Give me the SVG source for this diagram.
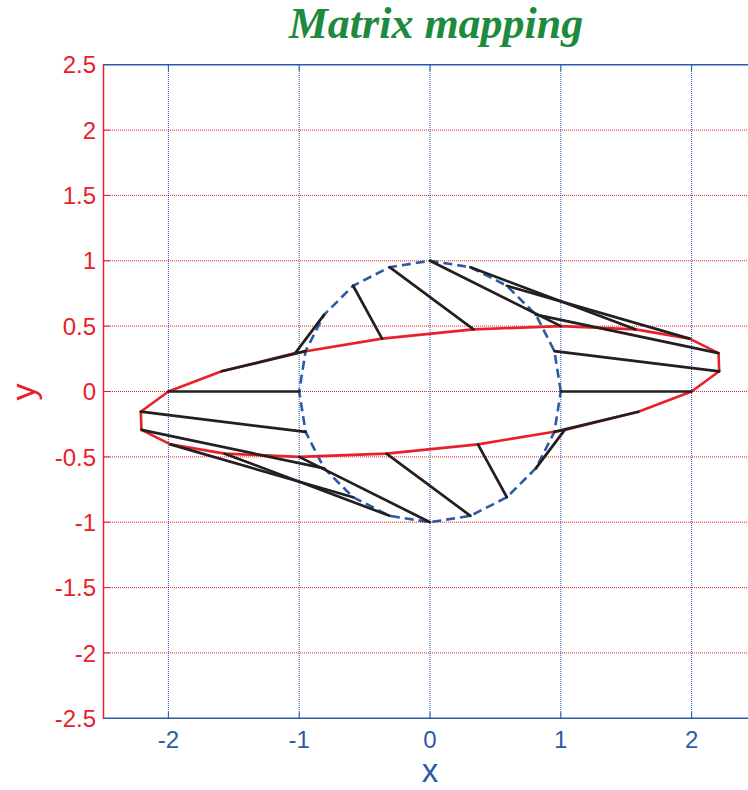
<svg xmlns="http://www.w3.org/2000/svg" width="748" height="790" viewBox="0 0 748 790">
<style>
.hg{stroke:#e8202a;stroke-width:1;stroke-dasharray:1,1;fill:none}
.vg{stroke:#2b5ba8;stroke-width:1;stroke-dasharray:1,1;fill:none}
.ytl{font-family:"Liberation Sans",Arial,sans-serif;font-size:24px;fill:#e8202a;text-anchor:end}
.xtl{font-family:"Liberation Sans",Arial,sans-serif;font-size:24px;fill:#2b5ba8;text-anchor:middle}
.conn line{stroke:#231f20;stroke-width:2.7;stroke-linecap:round}
</style>
<rect width="748" height="790" fill="#ffffff"/>
<g id="grid">
<line class="hg" x1="104" y1="130.1" x2="748" y2="130.1"/>
<line class="hg" x1="104" y1="195.4" x2="748" y2="195.4"/>
<line class="hg" x1="104" y1="260.8" x2="748" y2="260.8"/>
<line class="hg" x1="104" y1="326.1" x2="748" y2="326.1"/>
<line class="hg" x1="104" y1="391.5" x2="748" y2="391.5"/>
<line class="hg" x1="104" y1="456.9" x2="748" y2="456.9"/>
<line class="hg" x1="104" y1="522.2" x2="748" y2="522.2"/>
<line class="hg" x1="104" y1="587.6" x2="748" y2="587.6"/>
<line class="hg" x1="104" y1="652.9" x2="748" y2="652.9"/>
<line class="vg" x1="168.4" y1="65" x2="168.4" y2="718"/>
<line class="vg" x1="299.2" y1="65" x2="299.2" y2="718"/>
<line class="vg" x1="430" y1="65" x2="430" y2="718"/>
<line class="vg" x1="560.8" y1="65" x2="560.8" y2="718"/>
<line class="vg" x1="691.6" y1="65" x2="691.6" y2="718"/>
</g>
<g id="axes">
<line x1="103.5" y1="64.7" x2="748" y2="64.7" stroke="#2b5ba8" stroke-width="1.5"/>
<line x1="103.5" y1="718.3" x2="748" y2="718.3" stroke="#2b5ba8" stroke-width="1.5"/>
<line x1="103.5" y1="64" x2="103.5" y2="719" stroke="#e8202a" stroke-width="1.5"/>
<g stroke="#2b5ba8" stroke-width="1">
<line x1="168.4" y1="718" x2="168.4" y2="712"/><line x1="299.2" y1="718" x2="299.2" y2="712"/><line x1="430" y1="718" x2="430" y2="712"/><line x1="560.8" y1="718" x2="560.8" y2="712"/><line x1="691.6" y1="718" x2="691.6" y2="712"/>
<line x1="168.4" y1="65" x2="168.4" y2="71"/><line x1="299.2" y1="65" x2="299.2" y2="71"/><line x1="430" y1="65" x2="430" y2="71"/><line x1="560.8" y1="65" x2="560.8" y2="71"/><line x1="691.6" y1="65" x2="691.6" y2="71"/>
</g>
<g stroke="#e8202a" stroke-width="1">
<line x1="104" y1="130.1" x2="110" y2="130.1"/><line x1="104" y1="195.4" x2="110" y2="195.4"/><line x1="104" y1="260.8" x2="110" y2="260.8"/><line x1="104" y1="326.1" x2="110" y2="326.1"/><line x1="104" y1="391.5" x2="110" y2="391.5"/><line x1="104" y1="456.9" x2="110" y2="456.9"/><line x1="104" y1="522.2" x2="110" y2="522.2"/><line x1="104" y1="587.6" x2="110" y2="587.6"/><line x1="104" y1="652.9" x2="110" y2="652.9"/>
</g>
<text class="ytl" x="96" y="73.3">2.5</text>
<text class="ytl" x="96" y="138.7">2</text>
<text class="ytl" x="96" y="204">1.5</text>
<text class="ytl" x="96" y="269.4">1</text>
<text class="ytl" x="96" y="334.7">0.5</text>
<text class="ytl" x="96" y="400.1">0</text>
<text class="ytl" x="96" y="465.5">-0.5</text>
<text class="ytl" x="96" y="530.8">-1</text>
<text class="ytl" x="96" y="596.2">-1.5</text>
<text class="ytl" x="96" y="661.5">-2</text>
<text class="ytl" x="96" y="726.9">-2.5</text>
<text class="xtl" x="168.4" y="748">-2</text>
<text class="xtl" x="299.2" y="748">-1</text>
<text class="xtl" x="430" y="748">0</text>
<text class="xtl" x="560.8" y="748">1</text>
<text class="xtl" x="691.6" y="748">2</text>
<text x="430" y="782" font-family="Liberation Sans,Arial,sans-serif" font-size="33" fill="#2b5ba8" text-anchor="middle">x</text>
<text transform="translate(35,392) rotate(-90)" font-family="Liberation Sans,Arial,sans-serif" font-size="34" fill="#e8202a" text-anchor="middle">y</text>
<text x="436" y="38" font-family="Liberation Serif,Times New Roman,serif" font-size="44" font-weight="bold" font-style="italic" fill="#1e8a3e" text-anchor="middle">Matrix mapping</text>
</g>
<g id="unit-circle">
<polygon points="560.8,391.5 554.40,351.11 535.82,314.68 506.88,285.76 470.42,267.20 430,260.8 389.58,267.20 353.12,285.76 324.18,314.68 305.60,351.11 299.2,391.5 305.60,431.89 324.18,468.32 353.12,497.24 389.58,515.80 430,522.2 470.42,515.80 506.88,497.24 535.82,468.32 554.40,431.89" fill="none" stroke="#2b5ba8" stroke-width="2.6" stroke-dasharray="9,5"/>
</g>
<g id="mapped-curve">
<polygon points="691.6,391.5 719.22,371.31 718.52,353.09 689.58,338.63 635.24,329.35 560.8,326.15 473.56,329.35 382.06,338.63 295.25,353.09 221.62,371.31 168.4,391.5 140.78,411.69 141.48,429.91 170.42,444.37 224.76,453.65 299.2,456.85 386.44,453.65 477.94,444.37 564.75,429.91 638.38,411.69" fill="none" stroke="#e8202a" stroke-width="2.6" stroke-linejoin="round"/>
</g>
<g id="connectors" class="conn">
<line x1="560.8" y1="391.5" x2="691.6" y2="391.5"/>
<line x1="554.40" y1="351.11" x2="719.22" y2="371.31"/>
<line x1="535.82" y1="314.68" x2="718.52" y2="353.09"/>
<line x1="506.88" y1="285.76" x2="689.58" y2="338.63"/>
<line x1="470.42" y1="267.20" x2="635.24" y2="329.35"/>
<line x1="430" y1="260.8" x2="560.8" y2="326.15"/>
<line x1="389.58" y1="267.20" x2="473.56" y2="329.35"/>
<line x1="353.12" y1="285.76" x2="382.06" y2="338.63"/>
<line x1="324.18" y1="314.68" x2="295.25" y2="353.09"/>
<line x1="305.60" y1="351.11" x2="221.62" y2="371.31"/>
<line x1="299.2" y1="391.5" x2="168.4" y2="391.5"/>
<line x1="305.60" y1="431.89" x2="140.78" y2="411.69"/>
<line x1="324.18" y1="468.32" x2="141.48" y2="429.91"/>
<line x1="353.12" y1="497.24" x2="170.42" y2="444.37"/>
<line x1="389.58" y1="515.80" x2="224.76" y2="453.65"/>
<line x1="430" y1="522.2" x2="299.2" y2="456.85"/>
<line x1="470.42" y1="515.80" x2="386.44" y2="453.65"/>
<line x1="506.88" y1="497.24" x2="477.94" y2="444.37"/>
<line x1="535.82" y1="468.32" x2="564.75" y2="429.91"/>
<line x1="554.40" y1="431.89" x2="638.38" y2="411.69"/>
</g>
</svg>
